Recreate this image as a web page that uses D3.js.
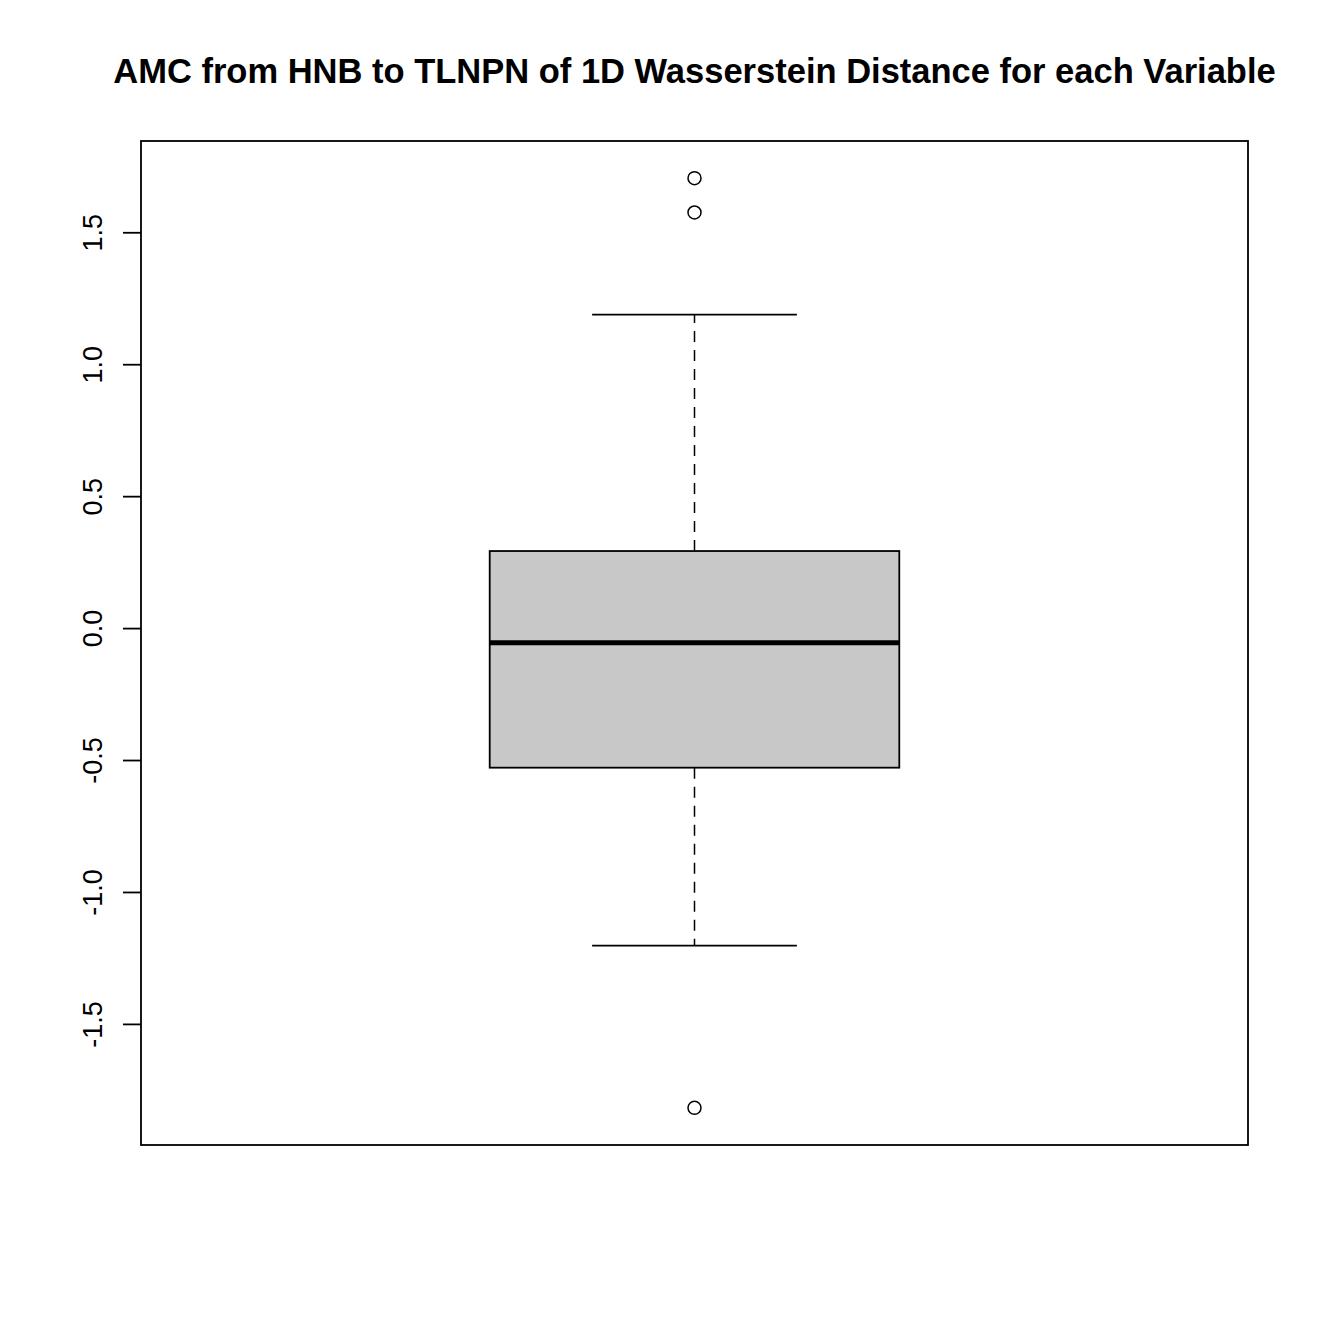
<!DOCTYPE html>
<html>
<head>
<meta charset="utf-8">
<title>AMC boxplot</title>
<script src="https://d3js.org/d3.v7.min.js"></script>
<style>
  body { margin: 0; background: #fff; }
  svg { display: block; font-family: 'Liberation Sans', Arial, sans-serif; }
</style>
</head>
<body>
<svg id="chart" width="1321" height="1321"></svg>
<script>
// five-number summary
const stats = { lowerWhisker: -1.203, q1: -0.529, median: -0.056, q3: 0.292, upperWhisker: 1.188 };
const outliers = [1.705, 1.575, -1.818];
const yTicks = [-1.5, -1.0, -0.5, 0.0, 0.5, 1.0, 1.5];
const title = 'AMC from HNB to TLNPN of 1D Wasserstein Distance for each Variable';

const plot = { left: 141, right: 1248, top: 141, bottom: 1145 };
const svg = d3.select('#chart');

// R extends the range by 4% on each side
const lo = d3.min([stats.lowerWhisker, ...outliers]);
const hi = d3.max([stats.upperWhisker, ...outliers]);
const pad = (hi - lo) * 0.04;

const y = d3.scaleLinear().domain([lo - pad, hi + pad]).range([plot.bottom, plot.top]);
const x = d3.scaleLinear().domain([0.5, 1.5]).range([plot.left, plot.right]);

const cx = x(1);
const boxHalf = x(1.185) - x(1);
const capHalf = boxHalf / 2;

svg.append('text')
  .attr('x', (plot.left + plot.right) / 2)
  .attr('y', 83)
  .attr('text-anchor', 'middle')
  .attr('font-size', 34.5)
  .attr('font-weight', 'bold')
  .text(title);

// whiskers
svg.append('line')
  .attr('x1', cx).attr('x2', cx)
  .attr('y1', y(stats.q3)).attr('y2', y(stats.upperWhisker))
  .attr('stroke', '#000').attr('stroke-width', 1.5).attr('stroke-dasharray', '11,8');
svg.append('line')
  .attr('x1', cx).attr('x2', cx)
  .attr('y1', y(stats.q1)).attr('y2', y(stats.lowerWhisker))
  .attr('stroke', '#000').attr('stroke-width', 1.5).attr('stroke-dasharray', '11,8');

[stats.upperWhisker, stats.lowerWhisker].forEach(v => {
  svg.append('line')
    .attr('x1', cx - capHalf).attr('x2', cx + capHalf)
    .attr('y1', y(v)).attr('y2', y(v))
    .attr('stroke', '#000').attr('stroke-width', 1.8);
});

// box
svg.append('rect')
  .attr('x', cx - boxHalf)
  .attr('y', y(stats.q3))
  .attr('width', boxHalf * 2)
  .attr('height', y(stats.q1) - y(stats.q3))
  .attr('fill', '#c8c8c8')
  .attr('stroke', '#000')
  .attr('stroke-width', 1.8);

svg.append('line')
  .attr('x1', cx - boxHalf).attr('x2', cx + boxHalf)
  .attr('y1', y(stats.median)).attr('y2', y(stats.median))
  .attr('stroke', '#000').attr('stroke-width', 5);

// outliers
svg.append('g')
  .selectAll('circle')
  .data(outliers)
  .enter()
  .append('circle')
  .attr('cx', cx)
  .attr('cy', d => y(d))
  .attr('r', 6.5)
  .attr('fill', 'none')
  .attr('stroke', '#000')
  .attr('stroke-width', 1.5);

// y axis
const axis = svg.append('g')
  .attr('transform', `translate(${plot.left},0)`)
  .call(d3.axisLeft(y).tickValues(yTicks).tickSize(18).tickFormat(d => d.toFixed(1)));
axis.select('.domain').remove();
axis.selectAll('.tick line').attr('stroke-width', 1.8);
axis.selectAll('.tick text')
  .attr('font-size', 27)
  .attr('font-family', "'Liberation Sans', Arial, sans-serif")
  .attr('fill', '#000')
  .attr('text-anchor', 'middle')
  .attr('transform', 'rotate(-90)')
  .attr('x', 0)
  .attr('dy', 0)
  .attr('y', -39);

// frame
svg.append('rect')
  .attr('x', plot.left).attr('y', plot.top)
  .attr('width', plot.right - plot.left)
  .attr('height', plot.bottom - plot.top)
  .attr('fill', 'none')
  .attr('stroke', '#000')
  .attr('stroke-width', 1.8);
</script>
</body>
</html>
